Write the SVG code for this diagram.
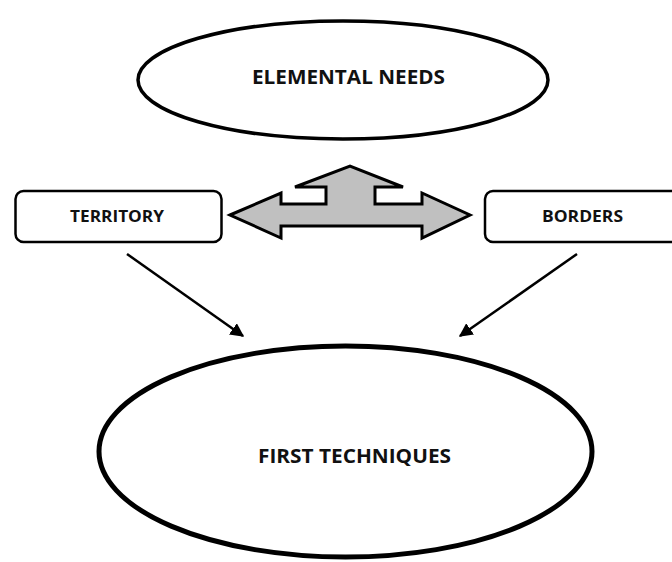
<svg xmlns="http://www.w3.org/2000/svg" width="672" height="562" viewBox="0 0 672 562">
<defs>
<style>
.node{fill:#fff;stroke:#000}
.lbl{font-family:"Open Sans","Liberation Sans",sans-serif;font-weight:700;fill:#111;text-anchor:middle}
.conn{stroke:#000;stroke-width:2.5;fill:none}
</style>
<marker id="ah" viewBox="0 0 10 10" refX="9" refY="5" markerWidth="5.5" markerHeight="5.5" orient="auto" markerUnits="strokeWidth">
<path d="M0,0 L10,5 L0,10 z" fill="#000"/>
</marker>
</defs>
<rect width="672" height="562" fill="#fff"/>
<g id="elemental-needs">
<ellipse class="node" cx="343" cy="80" rx="205" ry="59" stroke-width="3.5"/>
<text class="lbl" x="348.5" y="84" font-size="19" textLength="193" lengthAdjust="spacingAndGlyphs">ELEMENTAL NEEDS</text>
</g>
<g id="territory">
<rect class="node" x="15.5" y="191" width="206" height="51" rx="8" stroke-width="2.5"/>
<text class="lbl" x="117" y="222" font-size="16" textLength="94" lengthAdjust="spacingAndGlyphs">TERRITORY</text>
</g>
<g id="borders">
<rect class="node" x="485" y="191" width="200" height="51" rx="8" stroke-width="2.5"/>
<text class="lbl" x="582.5" y="222" font-size="16" textLength="81" lengthAdjust="spacingAndGlyphs">BORDERS</text>
</g>
<g id="first-techniques">
<ellipse class="node" cx="345.5" cy="451.5" rx="246.5" ry="105.5" stroke-width="5"/>
<text class="lbl" x="354.5" y="463" font-size="19" textLength="193" lengthAdjust="spacingAndGlyphs">FIRST TECHNIQUES</text>
</g>
<g id="connectors">
<polygon points="230,215 281,193 281,204 326,204 326,187 295,187 350,166 403,187 375,187 375,204 422,204 422,193 470,215 422,238 422,226 281,226 281,238" fill="#c0c0c0" stroke="#000" stroke-width="3" stroke-linejoin="miter"/>
<line class="conn" x1="127" y1="254" x2="243" y2="336" marker-end="url(#ah)"/>
<line class="conn" x1="577" y1="254" x2="460" y2="336" marker-end="url(#ah)"/>
</g>
</svg>
